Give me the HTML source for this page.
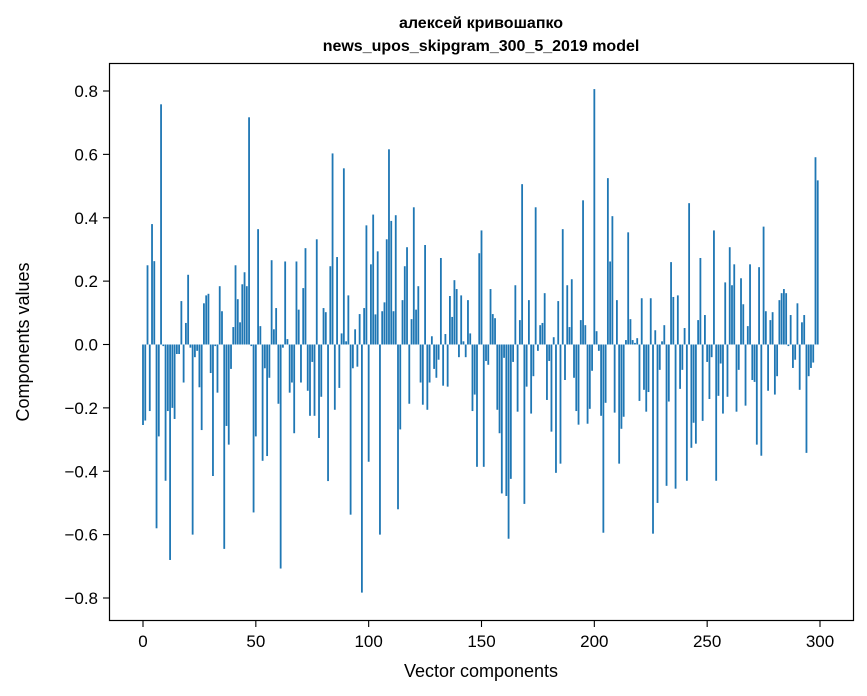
<!DOCTYPE html>
<html><head><meta charset="utf-8"><style>
body{margin:0;background:#fff;}
svg{display:block;font-family:"Liberation Sans","DejaVu Sans",sans-serif;}
</style></head><body>
<svg id="chart" width="867" height="696" viewBox="0 0 867 696" xmlns="http://www.w3.org/2000/svg">
<rect x="0" y="0" width="867" height="696" fill="#fff"/>
<text x="481" y="28" text-anchor="middle" font-size="16" font-weight="bold">алексей кривошапко</text>
<text x="481" y="51" text-anchor="middle" font-size="16" font-weight="bold">news_upos_skipgram_300_5_2019 model</text>
<g id="bars"></g>
<g id="xticks"></g>
<g id="yticks"></g>
<rect x="109.5" y="63.5" width="744" height="557" fill="none" stroke="#000" stroke-width="1.2"/>
<text x="481" y="677" text-anchor="middle" font-size="18">Vector components</text>
<text transform="translate(29,342) rotate(-90)" text-anchor="middle" font-size="18">Components values</text>
</svg>
<script>
const values = [
-0.254,-0.24,0.25,-0.21,0.38,0.263,-0.58,-0.29,0.758,-0.005,
-0.43,-0.21,-0.68,-0.2,-0.235,-0.03,-0.03,0.137,-0.12,0.068,
0.22,-0.01,-0.6,-0.04,-0.02,-0.135,-0.27,0.13,0.155,0.16,
-0.09,-0.415,-0.005,-0.152,0.184,0.105,-0.645,-0.257,-0.316,-0.077,
0.055,0.25,0.143,0.07,0.19,0.228,0.184,0.717,-0.005,-0.53,
-0.29,0.364,0.058,-0.367,-0.075,-0.352,-0.105,0.266,0.048,0.115,
-0.187,-0.707,-0.01,0.262,0.017,-0.152,-0.12,-0.28,0.262,0.11,
-0.12,0.178,0.304,-0.146,-0.225,-0.055,-0.225,0.332,-0.295,-0.165,
0.115,0.102,-0.431,0.247,0.603,-0.206,0.276,-0.137,0.035,0.556,
0.01,0.155,-0.537,-0.075,0.048,-0.07,0.096,-0.783,0.115,0.376,
-0.37,0.253,0.41,0.095,0.294,-0.6,0.105,0.133,0.332,0.616,
0.39,0.105,0.408,-0.52,-0.268,0.14,0.247,0.307,-0.187,0.08,
0.433,0.11,0.184,-0.12,-0.19,0.314,-0.206,-0.12,0.026,-0.077,
-0.105,-0.048,0.273,-0.13,0.033,-0.133,0.153,0.087,0.203,0.175,
-0.04,0.155,0.01,-0.04,0.14,0.035,-0.21,-0.158,-0.386,0.288,
0.36,-0.386,-0.052,-0.064,0.175,0.096,0.083,-0.206,-0.28,-0.47,
-0.042,-0.478,-0.613,-0.424,-0.055,0.187,-0.212,0.077,0.506,-0.503,
-0.133,0.14,-0.218,-0.1,0.433,-0.02,0.061,0.068,0.162,-0.175,
-0.052,-0.275,0.023,-0.405,0.137,-0.376,0.364,-0.112,0.187,0.055,
0.206,-0.105,-0.21,-0.253,0.077,0.455,0.061,-0.25,-0.203,-0.083,
0.806,0.042,-0.02,-0.225,-0.594,-0.184,0.525,0.262,0.405,-0.215,
0.14,-0.376,-0.266,-0.228,0.014,0.354,0.08,0.014,0.005,0.02,
-0.178,0.146,-0.143,-0.212,-0.15,0.146,-0.597,0.045,-0.5,-0.08,
0.01,0.061,-0.446,-0.18,0.26,0.15,-0.455,0.155,-0.14,-0.08,
0.052,-0.43,0.446,-0.326,-0.247,-0.313,0.077,0.273,-0.241,0.093,
-0.055,-0.172,-0.04,0.36,-0.43,-0.162,-0.06,-0.218,0.196,-0.165,
0.307,0.187,0.253,-0.212,-0.08,0.209,0.127,-0.193,0.058,0.253,
-0.112,-0.118,-0.316,0.244,-0.351,0.372,0.105,-0.146,0.077,0.102,
-0.158,-0.1,0.14,0.162,0.175,0.162,-0.005,0.093,-0.074,-0.048,
0.13,-0.143,0.07,0.093,-0.342,-0.1,-0.074,-0.057,0.591,0.518
];
const xTickValues = [0,50,100,150,200,250,300];
const yTickValues = [-0.8,-0.6,-0.4,-0.2,0.0,0.2,0.4,0.6,0.8];
const yTickLabels = ["\u22120.8","\u22120.6","\u22120.4","\u22120.2","0.0","0.2","0.4","0.6","0.8"];

const NS = "http://www.w3.org/2000/svg";
function xScale(v){ return 143 + v * (677/300); }
function yScale(v){ return 344.5 - v * (507/1.6); }

const barsG = document.getElementById('bars');
const bw = 0.8 * (677/300);
values.forEach((v, i) => {
  const r = document.createElementNS(NS, 'rect');
  const y0 = yScale(0), y1 = yScale(v);
  r.setAttribute('x', xScale(i) - bw/2);
  r.setAttribute('y', Math.min(y0, y1));
  r.setAttribute('width', bw);
  r.setAttribute('height', Math.max(Math.abs(y1 - y0), 0.3));
  r.setAttribute('fill', '#1f77b4');
  
  
  barsG.appendChild(r);
});

const xg = document.getElementById('xticks');
xTickValues.forEach(t => {
  const x = xScale(t);
  const l = document.createElementNS(NS, 'line');
  l.setAttribute('x1', x); l.setAttribute('x2', x);
  l.setAttribute('y1', 621); l.setAttribute('y2', 627);
  l.setAttribute('stroke', '#000'); l.setAttribute('stroke-width', '1.1');
  
  
  xg.appendChild(l);
  const tx = document.createElementNS(NS, 'text');
  tx.setAttribute('x', x); tx.setAttribute('y', 647);
  tx.setAttribute('text-anchor', 'middle'); tx.setAttribute('font-size', '17');
  tx.textContent = String(t);
  
  
  xg.appendChild(tx);
});

const yg = document.getElementById('yticks');
yTickValues.forEach((t, i) => {
  const y = yScale(t);
  const l = document.createElementNS(NS, 'line');
  l.setAttribute('x1', 103); l.setAttribute('x2', 109);
  l.setAttribute('y1', y); l.setAttribute('y2', y);
  l.setAttribute('stroke', '#000'); l.setAttribute('stroke-width', '1.1');
  
  
  yg.appendChild(l);
  const tx = document.createElementNS(NS, 'text');
  tx.setAttribute('x', 98); tx.setAttribute('y', y + 6);
  tx.setAttribute('text-anchor', 'end'); tx.setAttribute('font-size', '17');
  tx.textContent = yTickLabels[i];
  
  
  yg.appendChild(tx);
});
</script>
</body></html>
